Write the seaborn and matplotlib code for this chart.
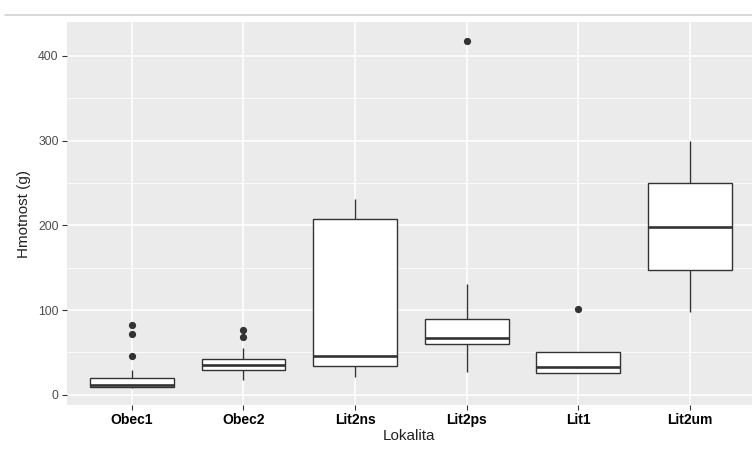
import numpy as np
import pandas as pd
import matplotlib
matplotlib.use("Agg")
import matplotlib.pyplot as plt
from matplotlib.ticker import MultipleLocator
from matplotlib.lines import Line2D
import seaborn as sns

# site order as in the reference
lokality = ["Obec1", "Obec2", "Lit2ns", "Lit2ps", "Lit1", "Lit2um"]

# weights (g) per site, estimated from the box plot
obec1 = [8.5, 9, 9.3, 9.5, 9.7, 10, 10.5, 11, 11.2, 13, 15.5, 18, 20.3, 29,
         45.4, 71.4, 82]
obec2 = [17.1, 22, 26, 28.5, 29.7, 31, 32.5, 34, 34.8, 37, 39, 40.5, 41.9, 46,
         54.9, 68.6, 76]
lit2ns = [21, 28, 34, 40, 46.2, 120, 207, 220, 231.5]
lit2ps = [27.4, 45, 55, 59.6, 62, 64.5, 66.7, 72, 80, 89.5, 105, 131, 418]
lit1 = [25.5, 26, 26.2, 29, 32.4, 40, 51, 51, 101]
lit2um = [98, 125, 147.7, 175, 198.5, 225, 249.5, 275, 300]

hmotnost = [obec1, obec2, lit2ns, lit2ps, lit1, lit2um]
df = pd.DataFrame({
    "Lokalita": np.repeat(lokality, [len(v) for v in hmotnost]),
    "Hmotnost": np.concatenate(hmotnost),
})

sns.set_theme(style="darkgrid", rc={
    "axes.facecolor": "#EBEBEB",
    "grid.color": "white",
    "figure.facecolor": "white",
})
plt.rcParams["font.family"] = ["Liberation Sans", "DejaVu Sans"]

fig = plt.figure(figsize=(7.52, 4.5), dpi=100)
ax = fig.add_axes([67 / 752, 1 - 405 / 450, 1 - 67 / 752, (405 - 22) / 450])

sns.boxplot(data=df, x="Lokalita", y="Hmotnost", order=lokality, ax=ax,
            width=0.75, color="white", saturation=1, linecolor="#333333",
            linewidth=1.0, showcaps=False,
            medianprops=dict(linewidth=1.9, color="#333333"),
            flierprops=dict(marker="o", markersize=4.2,
                            markerfacecolor="#333333",
                            markeredgecolor="#333333"))

ax.set_ylim(-12, 440)
ax.set_xlim(-0.58, 5.556)
ax.set_yticks([0, 100, 200, 300, 400])
ax.yaxis.set_minor_locator(MultipleLocator(50))
ax.grid(which="major", color="white", linewidth=1.1)
ax.grid(which="minor", axis="y", color="white", linewidth=0.55)
ax.set_axisbelow(True)
for s in ax.spines.values():
    s.set_visible(False)

ax.tick_params(axis="both", which="major", length=3.5, width=0.8,
               color="#333333", pad=2.5, bottom=True, left=True)
ax.tick_params(axis="y", which="minor", length=0)
ax.tick_params(axis="y", labelsize=8.8, labelcolor="#4D4D4D")
ax.tick_params(axis="x", labelsize=10, labelcolor="black")
for lbl in ax.get_xticklabels():
    lbl.set_fontweight("bold")

ax.set_xlabel("Lokalita", fontsize=11, color="#222222", labelpad=1)
ax.set_ylabel("Hmotnost (g)", fontsize=11, color="#222222", labelpad=5)

# grey rule at the top of the screenshot
fig.add_artist(Line2D([5 / 752, 1], [1 - 14.5 / 450] * 2,
                      color="#D6D6D6", linewidth=1.3))

fig.savefig("out.png", dpi=100)
